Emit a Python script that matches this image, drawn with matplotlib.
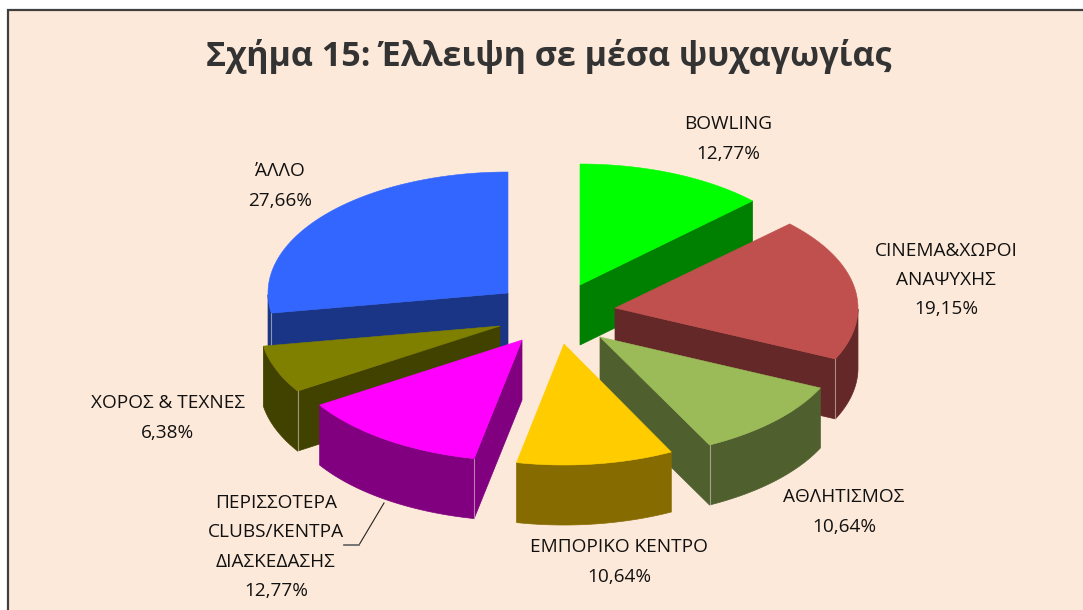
import numpy as np
import matplotlib
matplotlib.use("Agg")
import matplotlib.pyplot as plt
from matplotlib.patches import Polygon, Rectangle

plt.rcParams['font.family'] = ['Open Sans', 'DejaVu Sans']

title = "Σχήμα 15: Έλλειψη σε μέσα ψυχαγωγίας"
categories = ["BOWLING", "CINEMA&ΧΩΡΟΙ\nΑΝΑΨΥΧΗΣ", "ΑΘΛΗΤΙΣΜΟΣ", "ΕΜΠΟΡΙΚΟ ΚΕΝΤΡΟ",
              "ΠΕΡΙΣΣΟΤΕΡΑ\nCLUBS/ΚΕΝΤΡΑ\nΔΙΑΣΚΕΔΑΣΗΣ", "ΧΟΡΟΣ & ΤΕΧΝΕΣ", "ΆΛΛΟ"]
values = [12.77, 19.15, 10.64, 10.64, 12.77, 6.38, 27.66]
top_colors = ["#00FF00", "#C0504D", "#9BBB59", "#FFCC00", "#FF00FF", "#808000", "#3366FF"]
side_colors = ["#008000", "#632827", "#4F5F2D", "#866B00", "#800080", "#424200", "#1A3586"]

# layout (pixel space)
apex = [(580, 285), (615, 308), (600, 337), (564, 344), (522, 340), (500, 326), (508, 293)]
radius_x = [240, 243, 243, 238, 240, 240, 240]
label_pos = [(728, 139), (946, 280), (844, 512), (619, 562), (276, 547), (168, 418), (280, 186)]
draw_order = [6, 0, 5, 1, 2, 4, 3]
RY, DEPTH = 121, 60

W, H = 1083, 610
fig = plt.figure(figsize=(W / 100, H / 100), dpi=100, facecolor="white")
ax = fig.add_axes([0, 0, 1, 1])
ax.set_xlim(0, W)
ax.set_ylim(H, 0)
ax.axis("off")

ax.add_patch(Rectangle((8, 10), W, H, facecolor="#FDE9D9", edgecolor="#3F3F3F", lw=1.6, zorder=0))

fracs = np.array(values) / sum(values) * 2 * np.pi
ends = np.cumsum(fracs)
starts = ends - fracs

z = 2
for i in draw_order:
    c = apex[i]
    th = np.linspace(starts[i], ends[i], 80)
    x = c[0] + radius_x[i] * np.sin(th)
    y = c[1] - RY * np.cos(th)
    mid = (x[40], y[40])
    seams = []
    # radial faces
    for ex, ey, t in ((x[0], y[0], th[0]), (x[-1], y[-1], th[-1])):
        edge_y = c[1] + (ey - c[1]) * (mid[0] - c[0]) / (ex - c[0])
        if mid[1] < edge_y:
            ax.add_patch(Polygon([c, (ex, ey), (ex, ey + DEPTH), (c[0], c[1] + DEPTH)],
                                 closed=True, fc=side_colors[i], ec=side_colors[i], lw=0.5, zorder=z))
            z += 1
            if np.cos(t) < 0:
                seams.append((ex, ey))
    # outer wall (front half only)
    m = np.cos(th) < 0
    if m.any():
        wx, wy = x[m], y[m]
        poly = np.r_[np.c_[wx, wy], np.c_[wx[::-1], wy[::-1] + DEPTH]]
        ax.add_patch(Polygon(poly, closed=True, fc=side_colors[i], ec=side_colors[i], lw=0.5, zorder=z))
        z += 1
    for ex, ey in seams:
        ax.plot([ex, ex], [ey, ey + DEPTH], color="#D9D2C4", lw=0.8, alpha=0.6, zorder=z)
    z += 1
    ax.add_patch(Polygon(np.r_[[c], np.c_[x, y]], closed=True, fc=top_colors[i], ec=top_colors[i], lw=0.4, zorder=z))
    z += 1

ax.text(549, 56, title, ha="center", va="center", fontsize=24.5, fontweight="bold", color="#333333", zorder=50)

for name, v, (lx, ly) in zip(categories, values, label_pos):
    pct = f"{v:.2f}%".replace(".", ",")
    ax.text(lx, ly, f"{name}\n{pct}", ha="center", va="center", fontsize=13.7,
            color="#111111", linespacing=1.8, zorder=50)

ax.plot([344, 359, 384], [545, 545, 503], color="#222222", lw=0.8, zorder=50)
ax.plot([344, 359], [545, 545], color="#777777", lw=1.2, zorder=51)

fig.savefig("out.png", dpi=100, facecolor="white")
